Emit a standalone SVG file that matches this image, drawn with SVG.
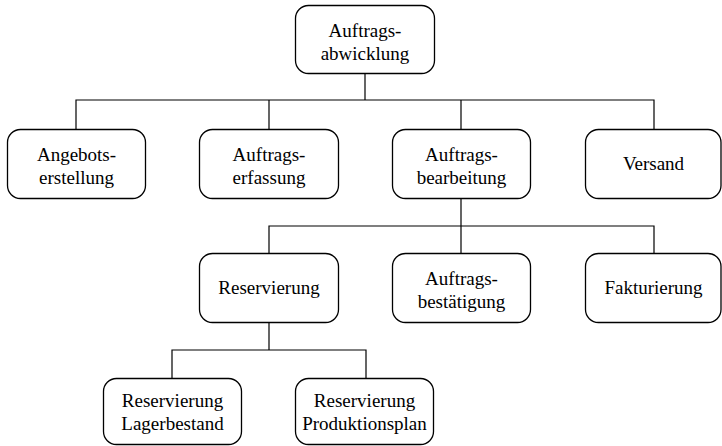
<svg xmlns="http://www.w3.org/2000/svg" width="722" height="446" viewBox="0 0 722 446">
  <style>
    .box { fill: #ffffff; stroke: #000000; stroke-width: 1.3; }
    .lbl { font-family: "Liberation Serif", "Times New Roman", serif; font-size: 19px; fill: #000000; text-anchor: middle; }
    .conn { fill: none; stroke: #000000; stroke-width: 1.2; }
  </style>
  <rect width="722" height="446" fill="#ffffff"/>

  <!-- connectors -->
  <g id="connectors">
    <path class="conn" d="M365,73 V100 M76,129 V100 H654 V129 M269,100 V129 M461,100 V129"/>
    <path class="conn" d="M461,198 V226 M269,253 V226 H654 V253 M461,226 V253"/>
    <path class="conn" d="M269,322 V350 M172,378 V350 H366 V378"/>
  </g>

  <!-- level 0 -->
  <g id="auftragsabwicklung">
    <rect class="box" x="295.5" y="5.5" width="139" height="68" rx="13"/>
    <text class="lbl" x="365" y="37">Auftrags-</text>
    <text class="lbl" x="365" y="60">abwicklung</text>
  </g>

  <!-- level 1 -->
  <g id="angebotserstellung">
    <rect class="box" x="7.5" y="129.5" width="138" height="69" rx="13"/>
    <text class="lbl" x="76.5" y="161">Angebots-</text>
    <text class="lbl" x="76.5" y="184">erstellung</text>
  </g>
  <g id="auftragserfassung">
    <rect class="box" x="199.5" y="129.5" width="139" height="69" rx="13"/>
    <text class="lbl" x="269" y="161">Auftrags-</text>
    <text class="lbl" x="269" y="184">erfassung</text>
  </g>
  <g id="auftragsbearbeitung">
    <rect class="box" x="392.5" y="129.5" width="138" height="69" rx="13"/>
    <text class="lbl" x="461.5" y="161">Auftrags-</text>
    <text class="lbl" x="461.5" y="184">bearbeitung</text>
  </g>
  <g id="versand">
    <rect class="box" x="585.5" y="129.5" width="135.5" height="69" rx="13"/>
    <text class="lbl" x="653.5" y="170">Versand</text>
  </g>

  <!-- level 2 -->
  <g id="reservierung">
    <rect class="box" x="199.5" y="253.5" width="139" height="69" rx="13"/>
    <text class="lbl" x="269" y="294">Reservierung</text>
  </g>
  <g id="auftragsbestaetigung">
    <rect class="box" x="392.5" y="253.5" width="138" height="69" rx="13"/>
    <text class="lbl" x="461.5" y="285">Auftrags-</text>
    <text class="lbl" x="461.5" y="308">bestätigung</text>
  </g>
  <g id="fakturierung">
    <rect class="box" x="585.5" y="253.5" width="135.5" height="69" rx="13"/>
    <text class="lbl" x="653.5" y="294">Fakturierung</text>
  </g>

  <!-- level 3 -->
  <g id="reservierung-lagerbestand">
    <rect class="box" x="103.5" y="378.5" width="138" height="66" rx="13"/>
    <text class="lbl" x="172.5" y="407">Reservierung</text>
    <text class="lbl" x="172.5" y="430">Lagerbestand</text>
  </g>
  <g id="reservierung-produktionsplan">
    <rect class="box" x="295.5" y="378.5" width="138" height="66" rx="13"/>
    <text class="lbl" x="364.5" y="407">Reservierung</text>
    <text class="lbl" x="364.5" y="430">Produktionsplan</text>
  </g>
</svg>
